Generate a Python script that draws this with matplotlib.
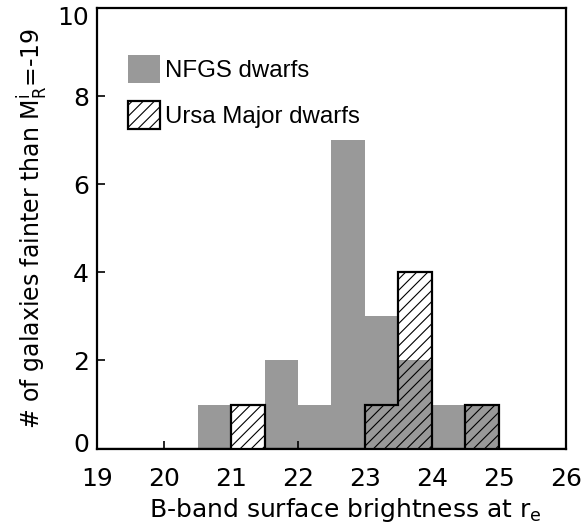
import matplotlib
matplotlib.use("Agg")
import matplotlib.pyplot as plt
import matplotlib.transforms as mtransforms
import numpy as np
from matplotlib.patches import Patch

AXFONT = ['DejaVu Sans']
plt.rcParams['font.family'] = ['Liberation Sans', 'DejaVu Sans']
plt.rcParams['mathtext.fontset'] = 'custom'
plt.rcParams['mathtext.rm'] = 'DejaVu Sans'
plt.rcParams['mathtext.it'] = 'DejaVu Sans'
plt.rcParams['hatch.color'] = 'black'
plt.rcParams['hatch.linewidth'] = 0.8

# bin edges (B-band surface brightness)
edges = [19.0, 19.5, 20.0, 20.5, 21.0, 21.5, 22.0, 22.5, 23.0, 23.5, 24.0, 24.5, 25.0, 25.5, 26.0]
nfgs = [0, 0, 0, 1, 0, 2, 1, 7, 3, 2, 1, 1, 0, 0]
ursa = [0, 0, 0, 0, 1, 0, 0, 0, 1, 4, 0, 1, 0, 0]
xticks = [19, 20, 21, 22, 23, 24, 25, 26]
yticks = [0, 2, 4, 6, 8, 10]

fig = plt.figure(figsize=(5.82, 5.29), dpi=100)
ax = fig.add_axes([0.167, 0.152, 0.805, 0.833])

left = np.array(edges[:-1])
ax.bar(left, nfgs, width=0.5, align='edge', color='#999999', linewidth=0, zorder=1)
ax.bar(left, ursa, width=0.5, align='edge', facecolor='none', edgecolor='black',
       hatch='///', linewidth=0, zorder=2)
ax.stairs(ursa, edges, color='black', linewidth=1.6, zorder=3)

ax.set_xlim(19, 26)
ax.set_ylim(0, 10)
ax.set_xticks(xticks)
ax.set_yticks(yticks)
ax.tick_params(direction='in', length=6, width=1.2, labelsize=18,
               top=False, right=False)
ax.tick_params(axis='x', pad=13)
ax.tick_params(axis='y', pad=6)
for lab in ax.get_xticklabels() + ax.get_yticklabels():
    lab.set_family(AXFONT)
for s in ax.spines.values():
    s.set_linewidth(1.6)
    s.set_zorder(5)

# keep the end labels of the y axis inside the axis range (as in the original)
yt = ax.yaxis.get_major_ticks()
lab0 = yt[0].label1
lab0.set_transform(lab0.get_transform() + mtransforms.ScaledTranslation(0, 6/100, fig.dpi_scale_trans))
labN = yt[-1].label1
labN.set_transform(labN.get_transform() + mtransforms.ScaledTranslation(0, -8/100, fig.dpi_scale_trans))

ax.set_xlabel(r'B-band surface brightness at r$_\mathregular{e}$', fontsize=18, labelpad=4,
              family=AXFONT)
ax.xaxis.label.set_x(0.53)
ax.set_ylabel(r'# of galaxies fainter than M$_\mathregular{R}^\mathregular{i}$=-19', fontsize=17,
              labelpad=5, family=AXFONT)

handles = [Patch(facecolor='#999999', edgecolor='none', linewidth=0),
           Patch(facecolor='none', edgecolor='black', hatch='///', linewidth=1.6)]
ax.legend(handles, ['NFGS dwarfs', 'Ursa Major dwarfs'], loc='upper left',
          bbox_to_anchor=(0.066, 0.893), frameon=False, fontsize=17.3,
          handlelength=1.33, handleheight=1.4, handletextpad=0.2, labelspacing=0.75,
          borderaxespad=0, borderpad=0)

fig.savefig('out.png', dpi=100)
